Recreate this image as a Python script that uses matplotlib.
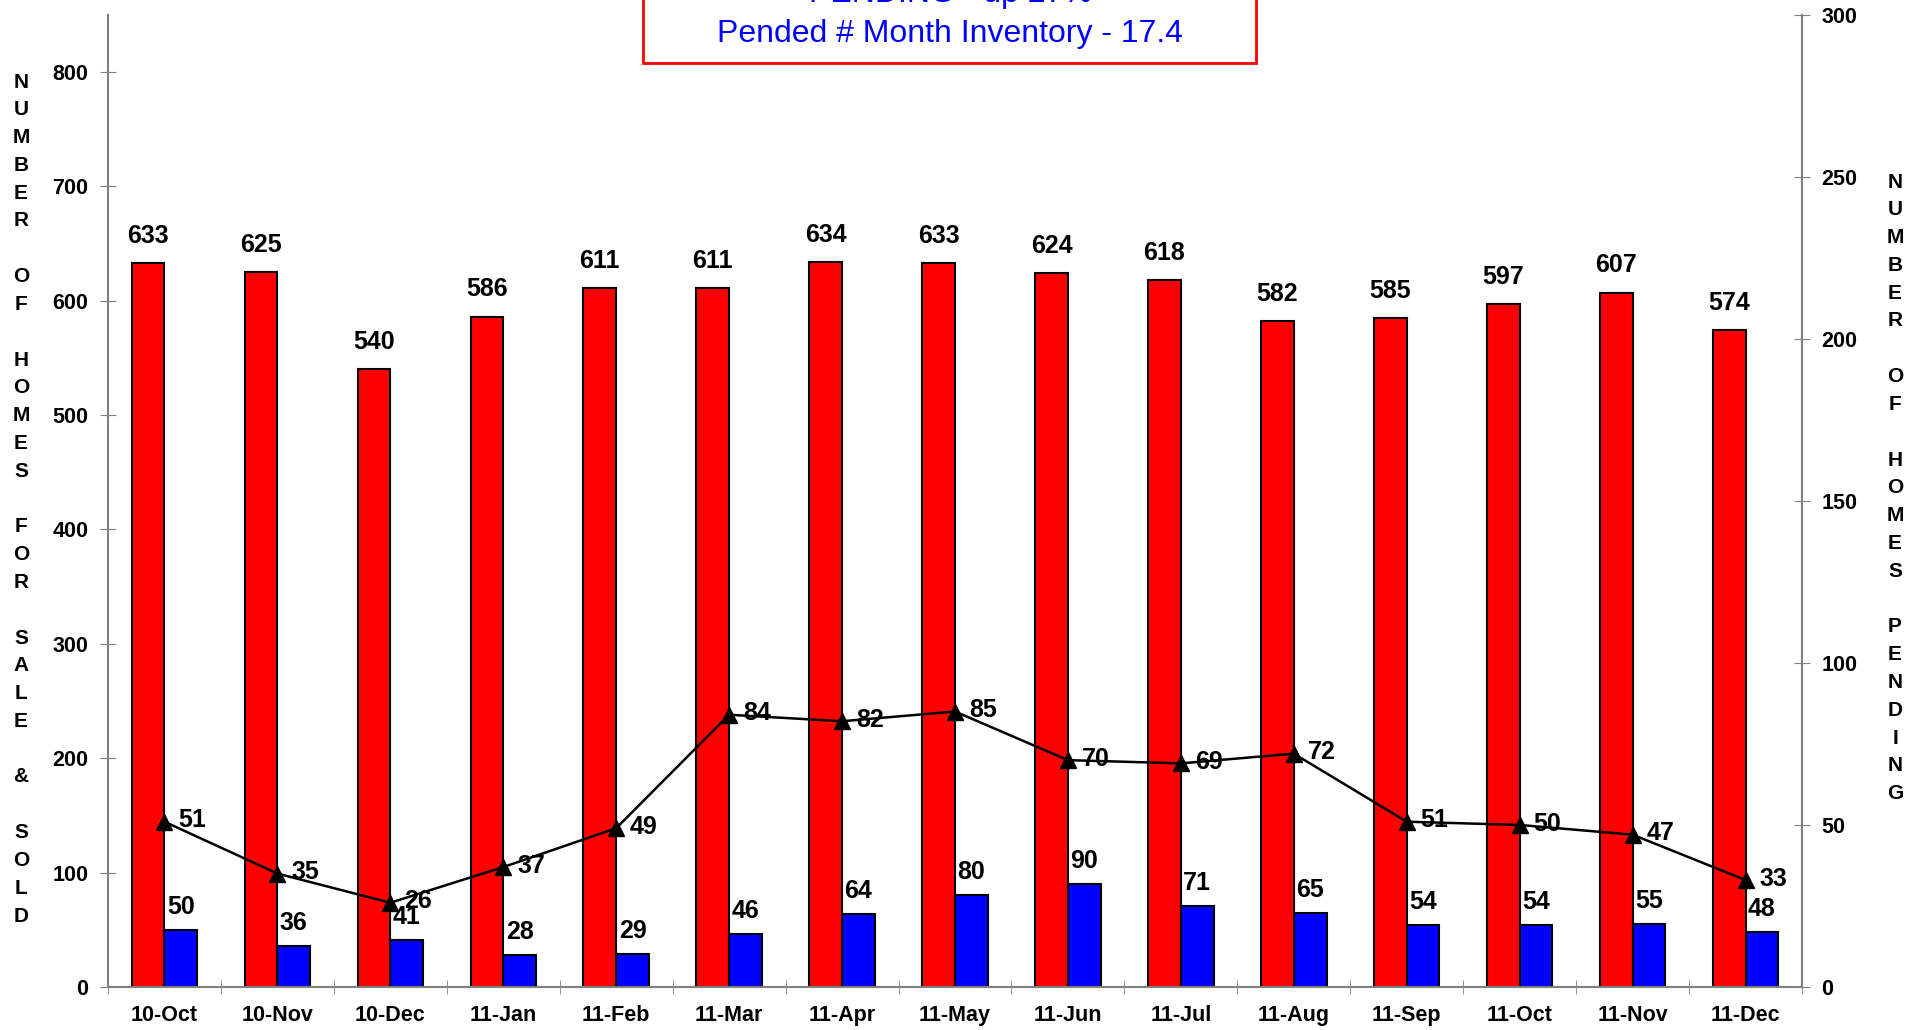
import matplotlib
matplotlib.use('Agg')
import matplotlib.pyplot as plt
import matplotlib.patches as patches
import numpy as np

plt.rcParams['font.family'] = ['Liberation Sans', 'DejaVu Sans']

# DATA
months = ['10-Oct', '10-Nov', '10-Dec', '11-Jan', '11-Feb', '11-Mar', '11-Apr', '11-May',
          '11-Jun', '11-Jul', '11-Aug', '11-Sep', '11-Oct', '11-Nov', '11-Dec']
for_sale = [633, 625, 540, 586, 611, 611, 634, 633, 624, 618, 582, 585, 597, 607, 574]
sold = [50, 36, 41, 28, 29, 46, 64, 80, 90, 71, 65, 54, 54, 55, 48]
pending = [51, 35, 26, 37, 49, 84, 82, 85, 70, 69, 72, 51, 50, 47, 33]
title_lines = ['PENDING - up 27%', 'Pended # Month Inventory - 17.4']
left_label = 'NUMBER OF HOMES FOR SALE & SOLD'
right_label = 'NUMBER OF HOMES PENDING'

W, H = 1913, 1030
fig = plt.figure(figsize=(W / 100, H / 100), dpi=100)
x0, x1, ytop, ybot = 108, 1802, 14.7, 987
ax = fig.add_axes([x0 / W, 1 - ybot / H, (x1 - x0) / W, (ybot - ytop) / H])
ax2 = ax.twinx()

x = np.arange(len(months))
bw = 0.29
ax.bar(x - bw / 2, for_sale, bw, color='#ff0000', edgecolor='black', linewidth=1.5, zorder=2)
ax.bar(x + bw / 2, sold, bw, color='#0000ff', edgecolor='black', linewidth=1.5, zorder=2)
for i in range(len(months)):
    ax.annotate(str(for_sale[i]), (x[i] - bw / 2, for_sale[i]), xytext=(0, 11),
                textcoords='offset points', ha='center', va='bottom',
                fontsize=18, fontweight='bold')
    ax.annotate(str(sold[i]), (x[i] + bw / 2, sold[i]), xytext=(0, 8),
                textcoords='offset points', ha='center', va='bottom',
                fontsize=18, fontweight='bold')

ax2.plot(x, pending, color='black', linewidth=1.8, marker='^', markersize=11, zorder=5)
for i in range(len(months)):
    ax2.annotate(str(pending[i]), (x[i], pending[i]), xytext=(10, 1),
                 textcoords='offset points', ha='left', va='center',
                 fontsize=18, fontweight='bold')

ax.set_xlim(-0.5, len(months) - 0.5)
ax.set_ylim(0, 850)
ax2.set_ylim(0, 300)
ax.set_yticks(np.arange(0, 801, 100))
ax2.set_yticks(np.arange(0, 301, 50))
ax.set_xticks(x)
ax.set_xticklabels(months, fontsize=15.5, fontweight='bold')
ax.set_xticks(np.arange(-0.5, len(months), 1), minor=True)
ax.tick_params(axis='x', which='major', length=0, pad=13)
ax.tick_params(axis='x', which='minor', length=10, direction='inout', color='gray')
ax.tick_params(axis='y', length=12, direction='inout', color='gray', pad=8)
ax2.tick_params(axis='y', length=12, direction='inout', color='gray', pad=8)
for lab in ax.get_yticklabels() + ax2.get_yticklabels():
    lab.set_fontweight('bold')
    lab.set_fontsize(15.5)

for a in (ax, ax2):
    a.spines['top'].set_visible(False)
    for s in ('left', 'right', 'bottom'):
        a.spines[s].set_color('gray')
        a.spines[s].set_linewidth(1.5)
ax.spines['right'].set_visible(False)
ax2.spines['left'].set_visible(False)
ax2.spines['bottom'].set_visible(False)

# stacked vertical axis titles, one letter per line
step = 27.8
for k, ch in enumerate(left_label):
    fig.text(21 / W, 1 - (82 + k * step) / H, ch, ha='center', va='center',
             fontsize=15, fontweight='bold')
for k, ch in enumerate(right_label):
    fig.text(1895 / W, 1 - (182 + k * step) / H, ch, ha='center', va='center',
             fontsize=15, fontweight='bold')

# title box at the top, partly cut off
fig.patches.append(patches.Rectangle((643 / W, 1 - 62.5 / H), 613 / W, 0.2,
                                     transform=fig.transFigure, facecolor='white',
                                     edgecolor='#ff0000', linewidth=2, zorder=10))
for k, t in enumerate(title_lines):
    fig.text(950 / W, 1 - (-6 + k * 40) / H, t, ha='center', va='center',
             fontsize=23, color='#0000ff', zorder=11)

fig.savefig('out.png', dpi=100)
